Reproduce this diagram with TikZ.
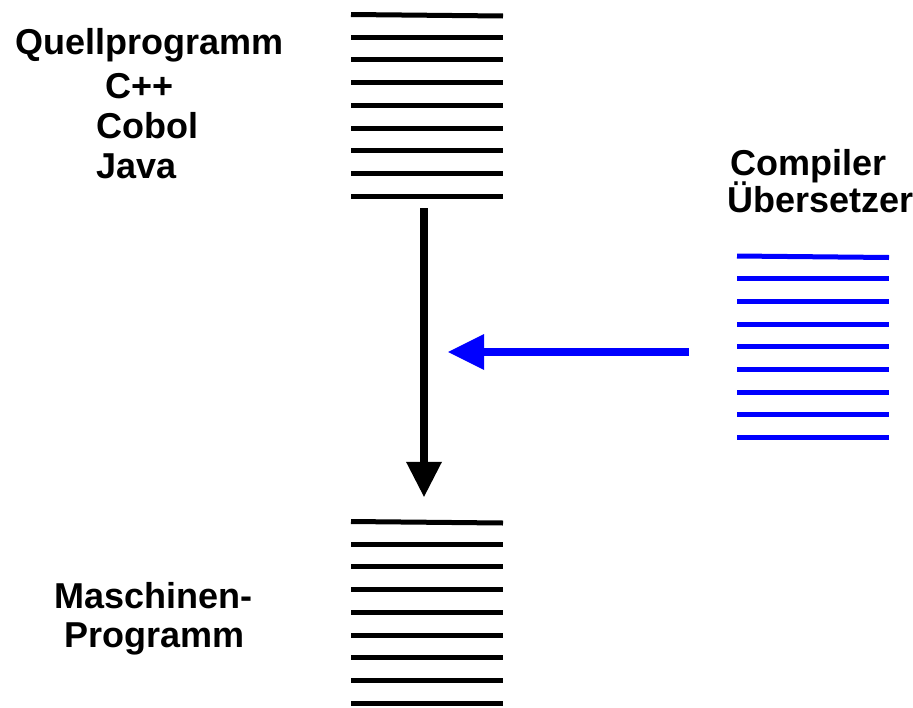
\documentclass[tikz,border=0pt]{standalone}
\usepackage{fontspec}
\setmainfont{Liberation Sans}
\usetikzlibrary{arrows.meta,calc}

\begin{document}
\begin{tikzpicture}[x=1pt,y=-1pt,
  label text/.style={anchor=base west,inner sep=0pt,font=\fontsize{36}{42}\selectfont\bfseries},
  stackbox/.style={inner sep=0pt,minimum width=152pt,minimum height=187pt},
  flowarrow/.style={line width=8pt,-{Triangle[width=36pt,length=35pt,line width=0pt]}},
  % nine ruled lines of a listing, the first one slightly tilted
  pics/pagelines/.style={code={
    \draw[line width=5pt] (0,0) -- (152,1.5);
    \foreach \k in {1,...,8}
      \draw[line width=5pt] (0,22.7*\k) -- (152,22.7*\k);
  }}]
\useasboundingbox[fill=white] (0,0) rectangle (913,707);

% source program listing
\pic at (351,14.5) {pagelines};
\node[stackbox] (src) at (427,105) {};
\node[label text] (qp)    at (15,54)  {Quellprogramm};
\node[label text] (cpp)   at (105,98) {C++};
\node[label text] (cobol) at (96,138) {Cobol};
\node[label text] (java)  at (96,178) {Java};

% machine program listing
\pic at (351,521.5) {pagelines};
\node[stackbox] (mach) at (427,613) {};
\node[label text] (masch) at (54,608) {Maschinen-};
\node[label text] (prog)  at (64,647) {Programm};

% compiler listing
\pic[blue] at (737,256) {pagelines};
\node[stackbox,minimum width=153pt] (comp) at (813.5,347.5) {};
\node[label text] (compiler) at (730,175) {Compiler};
\node[label text] (uebers)   at (727,212) {Übersetzer};

% translation arrows
\draw[flowarrow] ($(src.south)+(-3,9.5)$) -- ($(mach.north)+(-3,-22.5)$);
\coordinate (blueStart) at ($(comp.west)+(-48,4.5)$);
\coordinate (blueTip) at ($(src.east)+(-55,0)$);
\draw[flowarrow,blue,-{Triangle[width=36pt,length=36pt,line width=0pt]}]
  (blueStart) -- (blueStart -| blueTip);
\end{tikzpicture}
\end{document}
